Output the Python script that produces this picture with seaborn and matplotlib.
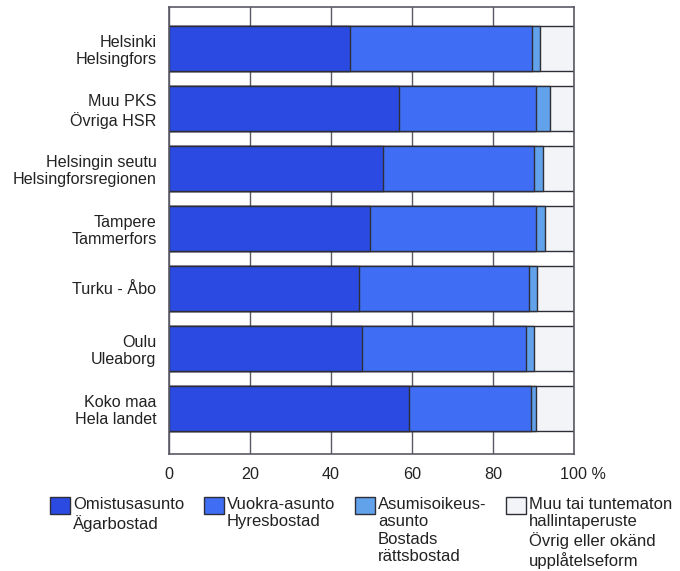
import matplotlib
matplotlib.use("Agg")
import matplotlib.pyplot as plt
import matplotlib.transforms as mtransforms
import matplotlib.patches as mpatches
import seaborn as sns
import numpy as np
import pandas as pd

# ---- data ----
regions = ["Helsinki\nHelsingfors", "Muu PKS\nÖvriga HSR", "Helsingin seutu\nHelsingforsregionen",
           "Tampere\nTammerfors", "Turku - Åbo", "Oulu\nUleaborg", "Koko maa\nHela landet"]
owner = [44.6, 56.7, 52.8, 49.7, 47.0, 47.5, 59.1]
rental = [45.0, 33.8, 37.2, 40.8, 41.8, 40.6, 30.3]
right_of_occupancy = [1.9, 3.5, 2.4, 2.3, 1.9, 1.9, 1.2]
other = [8.5, 6.0, 7.6, 7.2, 9.3, 10.0, 9.4]

series_labels = ["Omistusasunto\nÄgarbostad", "Vuokra-asunto\nHyresbostad",
                 "Asumisoikeus-\nasunto\nBostads\nrättsbostad",
                 "Muu tai tuntematon\nhallintaperuste\nÖvrig eller okänd\nupplåtelseform"]
colors = ["#2b4ae2", "#3f6ef4", "#62a2ea", "#f2f4f7"]
xticks = [0, 20, 40, 60, 80, 100]
xticklabels = ["0", "20", "40", "60", "80", "100 %"]

sns.set_style("white")
plt.rcParams["font.family"] = ["Liberation Sans", "DejaVu Sans"]
plt.rcParams["font.size"] = 11.5

df = pd.DataFrame({"region": regions, "owner": owner, "rental": rental,
                   "roo": right_of_occupancy, "other": other})
cols = ["owner", "rental", "roo", "other"]
cum = df[cols].cumsum(axis=1)

fig = plt.figure(figsize=(6.8, 5.71), dpi=100)
ax = fig.add_axes([169 / 680, 1 - 454 / 571, (574.3 - 169) / 680, (454 - 7.3) / 571])

edge = "#2e2e38"
for col, c in reversed(list(zip(cols, colors))):
    sns.barplot(x=cum[col], y=df["region"], orient="h", color=c, saturation=1,
                width=0.745, edgecolor=edge, linewidth=1.0, ax=ax, zorder=2)

ax.set_xlim(0, 100)
ax.set_ylim(6.76, -0.683)
ax.set_xlabel("")
ax.set_ylabel("")
ax.set_axisbelow(True)
ax.xaxis.grid(True, color="#5a5a66", linewidth=1.0)
ax.yaxis.grid(False)
for s in ax.spines.values():
    s.set_color("#5a5a66")
    s.set_linewidth(1.2)

ax.set_xticks(xticks)
ax.set_xticklabels(xticklabels)
ax.set_xticks([10, 30, 50, 70, 90], minor=True)
ax.tick_params(axis="x", which="major", length=0, pad=9.5, labelsize=11.6, labelcolor="#222222")
ax.tick_params(axis="x", which="minor", length=5, direction="in", color="#5a5a66", width=1.0)
ax.tick_params(axis="y", length=0, pad=9, labelsize=11.6, labelcolor="#222222")
for lab in ax.get_yticklabels():
    lab.set_horizontalalignment("right")
    lab.set_linespacing(1.2)

last = ax.get_xticklabels()[-1]
last.set_horizontalalignment("left")
last.set_transform(last.get_transform() + mtransforms.ScaledTranslation(-14 / 100, 0, fig.dpi_scale_trans))

handles = [mpatches.Patch(facecolor=c, edgecolor=edge, linewidth=1.0) for c in colors]
leg = fig.legend(handles, series_labels, loc="upper left", ncol=4,
                 bbox_to_anchor=(50 / 680, 1 - 497 / 571), frameon=False,
                 borderpad=0, borderaxespad=0, handlelength=1.2, handleheight=1.15,
                 handletextpad=0.2, columnspacing=1.15, fontsize=12)
for t in leg.get_texts():
    t.set_linespacing(1.2)
    t.set_color("#222222")
# align handles and entries to the top
hb = leg._legend_handle_box
hb.align = "top"
for col in hb.get_children():
    col.align = "left"
    for item in col.get_children():
        item.align = "top"

fig.savefig("out.png", dpi=100, facecolor="white")
